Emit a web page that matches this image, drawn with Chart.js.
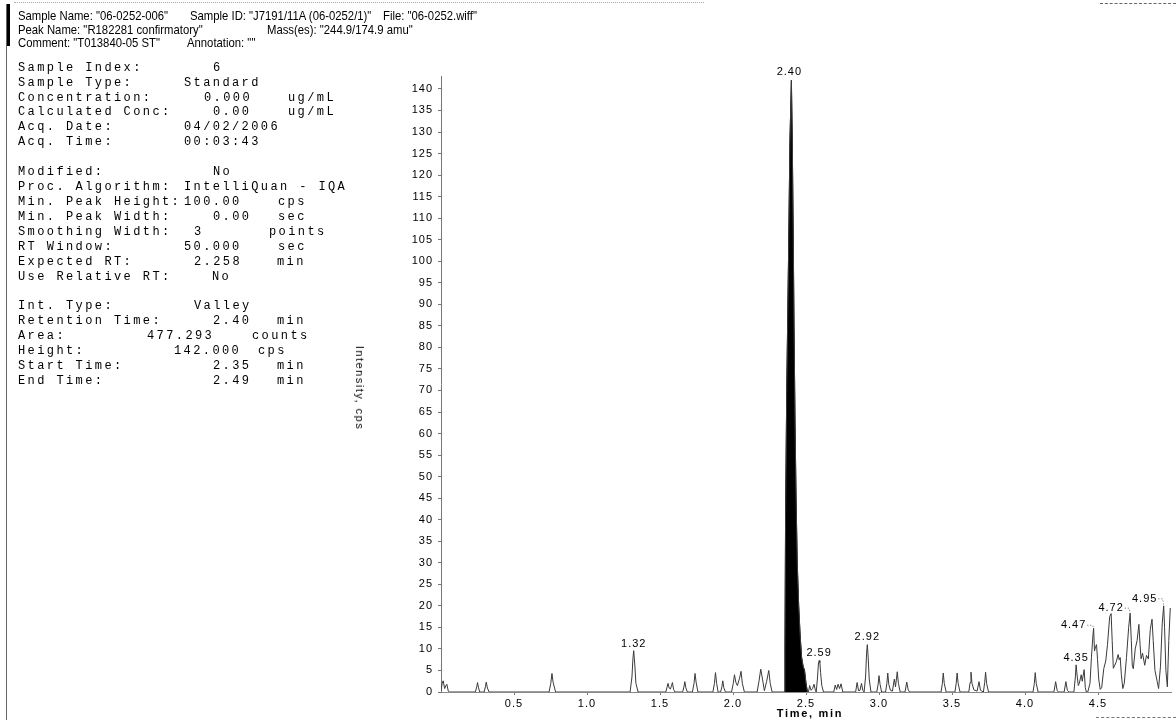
<!DOCTYPE html>
<html>
<head>
<meta charset="utf-8">
<script src="https://cdn.jsdelivr.net/npm/chart.js"></script>
<style>
html, body { margin: 0; padding: 0; background: #fff; }
body { width: 1176px; height: 720px; position: relative; overflow: hidden; }
#wrap { position: absolute; left: 0; top: 0; width: 1176px; height: 720px; }
.hd { position: absolute; font-family: "Liberation Sans", Arial, sans-serif; font-size: 13px; line-height: 14px; white-space: nowrap; color: #000; transform: scaleX(0.87); transform-origin: left center; }
.mono { position: absolute; font-family: "Liberation Mono", "Courier New", monospace; font-size: 12px; line-height: 14px; letter-spacing: 2.4px; white-space: nowrap; color: #000; }
.deco { position: absolute; }
#ytitle { position: absolute; left: 360px; top: 388px; transform: translate(-50%, -50%) rotate(90deg); font-family: "Liberation Sans", Arial, sans-serif; font-size: 11px; letter-spacing: 1.5px; white-space: nowrap; }
#xtitle { position: absolute; left: 810px; top: 713px; transform: translate(-50%, -50%); font-family: "Liberation Sans", Arial, sans-serif; font-size: 11px; font-weight: bold; letter-spacing: 1.7px; white-space: nowrap; }
</style>
</head>
<body>
<div id="wrap"><canvas id="chromChart"></canvas></div>
<div class="deco" style="left:6px;top:4px;width:4px;height:42px;background:#000"></div>
<div class="deco" style="left:6px;top:4px;width:1px;height:716px;background:#666"></div>
<div class="deco" style="left:14px;top:2px;width:690px;border-top:1px dotted #aaa"></div>
<div class="deco" style="left:1100px;top:3px;width:76px;border-top:1px dashed #666"></div>
<div class="deco" style="left:1096px;top:717px;width:80px;border-top:1px dashed #777"></div>
<div id="ytitle">Intensity, cps</div>
<div id="xtitle">Time, min</div>
<div id="texts"></div>
<script>
// chromatogram trace (time in min, intensity in cps)
const times = [
    0.0, 0.008, 0.015, 0.025, 0.032, 0.04, 0.05, 0.06,
    0.235, 0.245, 0.25, 0.257, 0.265,
    0.295, 0.304, 0.31, 0.318, 0.33,
    0.74, 0.752, 0.76, 0.768, 0.785,
    1.295, 1.308, 1.315, 1.32, 1.327, 1.335, 1.35,
    1.54, 1.548, 1.555, 1.563, 1.571, 1.578, 1.585, 1.593, 1.603,
    1.655, 1.664, 1.67, 1.677, 1.687,
    1.722, 1.733, 1.74, 1.748, 1.76,
    1.862, 1.873, 1.88, 1.888, 1.898,
    1.915, 1.924, 1.93, 1.937, 1.948,
    1.99, 2.002, 2.01, 2.02, 2.03, 2.045, 2.055, 2.064, 2.078,
    2.165, 2.178, 2.19, 2.202, 2.215, 2.23, 2.245, 2.255, 2.268,
    2.352, 2.356, 2.36, 2.368, 2.38, 2.39, 2.4, 2.406, 2.412, 2.418, 2.425, 2.432, 2.44, 2.45, 2.46, 2.47, 2.48, 2.49, 2.5, 2.51,
    2.517, 2.525, 2.535, 2.545, 2.555, 2.565,
    2.57, 2.578, 2.585, 2.59, 2.595, 2.6, 2.608, 2.62,
    2.69, 2.7, 2.71, 2.72, 2.73, 2.74, 2.752,
    2.84, 2.85, 2.86, 2.87, 2.88, 2.89,
    2.898, 2.908, 2.915, 2.92, 2.926, 2.933, 2.945,
    2.985, 2.994, 3.0, 3.007, 3.018,
    3.045, 3.054, 3.06, 3.067, 3.078,
    3.092, 3.105, 3.113, 3.125, 3.133, 3.145,
    3.178, 3.19, 3.2, 3.21,
    3.425, 3.434, 3.44, 3.447, 3.46,
    3.52, 3.529, 3.535, 3.542, 3.555,
    3.615, 3.624, 3.63, 3.637, 3.65,
    3.672, 3.685, 3.695, 3.705,
    3.715, 3.724, 3.73, 3.737, 3.75,
    4.055, 4.064, 4.07, 4.077, 4.09,
    4.198, 4.21, 4.22, 4.228,
    4.268, 4.28, 4.29, 4.3,
    4.335, 4.345, 4.35, 4.358, 4.365,
    4.372, 4.385, 4.392, 4.405, 4.413, 4.42,
    4.43, 4.445, 4.455, 4.465, 4.47, 4.476, 4.483, 4.49, 4.497, 4.505, 4.515,
    4.525, 4.54, 4.553, 4.565, 4.58, 4.59, 4.597, 4.605, 4.612,
    4.625, 4.638, 4.645, 4.652, 4.66, 4.67,
    4.68, 4.695, 4.71, 4.72, 4.728, 4.735, 4.742,
    4.755, 4.768, 4.78, 4.788, 4.795,
    4.805, 4.82, 4.832, 4.845, 4.858, 4.87, 4.878, 4.89, 4.905, 4.915, 4.928, 4.94, 4.95, 4.956, 4.965, 4.975, 4.985, 4.995
];
const intensity = [
    0.3, 2.0, 2.6, 0.8, 1.4, 1.8, 0.2, 0,
    0, 1.2, 2.2, 1.0, 0,
    0, 1.2, 2.3, 0.9, 0,
    0, 2.0, 4.3, 2.2, 0,
    0, 3.5, 8.0, 9.6, 6.5, 2.0, 0,
    0, 1.1, 2.0, 0.9, 0.7, 1.3, 2.2, 0.6, 0,
    0, 1.2, 2.4, 1.0, 0,
    0, 2.0, 4.3, 2.1, 0,
    0, 2.0, 4.5, 2.0, 0,
    0, 1.2, 2.6, 1.0, 0,
    0, 2.0, 4.0, 2.2, 1.5, 3.2, 4.8, 2.0, 0,
    0, 2.5, 5.3, 3.0, 0.3, 2.4, 5.0, 2.0, 0,
    0, 10, 40, 70, 100, 128, 142, 128, 108, 85, 62, 45, 30, 20, 13, 8, 6, 5, 2, 0,
    0, 1.5, 0.4, 0.8, 1.8, 0.3,
    0, 3.0, 6.5, 7.3, 6.8, 4.5, 1.5, 0,
    0, 1.6, 0.6, 1.8, 0.8, 1.9, 0,
    0, 2.2, 0.3, 0.4, 2.0, 0.3,
    0, 3.5, 9.0, 11, 8.0, 3.0, 0,
    0, 1.8, 3.8, 1.8, 0,
    0, 2.0, 4.4, 1.8, 0.4,
    0.2, 3.0, 1.2, 4.7, 2.0, 0,
    0, 2.3, 0.5, 0,
    0, 2.0, 4.4, 2.0, 0,
    0, 2.0, 4.4, 2.0, 0,
    0, 2.2, 4.6, 2.0, 0.5,
    0.2, 2.4, 0.4, 0.2,
    0, 2.2, 4.6, 2.0, 0,
    0, 2.0, 4.5, 2.0, 0,
    0, 2.4, 0.4, 0,
    0, 2.4, 0.4, 0,
    0, 3.5, 6.3, 3.5, 1.5,
    2.0, 4.0, 2.5, 5.2, 1.0, 0,
    0, 2.0, 8, 13, 14.8, 9.5, 10.5, 11.0, 7.5, 3.0, 0.6,
    1.0, 5.5, 7.2, 11, 17.5, 18.2, 12, 5.5, 6.0,
    7.0, 8.7, 7.5, 8.0, 4.0, 0.8,
    2.0, 8.0, 15, 18.3, 12, 6.0, 5.4,
    10, 12, 15.7, 11, 7.7,
    9.0, 6.2, 8.5, 7.7, 14.5, 16.9, 12, 5.0, 2.5, 0.8, 6.0, 16, 20, 15, 5.0, 1.2, 12, 19.5
];

// integrated peak (start / end time from the report)
const peakStart = 2.35;
const peakEnd = 2.515;

// labelled peak apexes
const peakLabels = ['1.32', '2.40', '2.59', '2.92', '4.35', '4.47', '4.72', '4.95'];
const peakTimes = [1.32, 2.40, 2.59, 2.92, 4.35, 4.47, 4.72, 4.95];
const peakHeights = [9.6, 142, 7.3, 11, 6.3, 14.8, 18.3, 20];

// axis ticks
const xTicks = [0.5, 1.0, 1.5, 2.0, 2.5, 3.0, 3.5, 4.0, 4.5];
const yTicks = [0, 5, 10, 15, 20, 25, 30, 35, 40, 45, 50, 55, 60, 65, 70, 75, 80, 85, 90, 95, 100, 105, 110, 115, 120, 125, 130, 135, 140];

// header and sample report text
const headerLines = [
    [[18, 'Sample Name: "06-0252-006"'], [190, 'Sample ID: "J7191/11A (06-0252/1)"'], [383, 'File: "06-0252.wiff"']],
    [[18, 'Peak Name: "R182281 confirmatory"'], [267, 'Mass(es): "244.9/174.9 amu"']],
    [[18, 'Comment: "T013840-05 ST"'], [187, 'Annotation: ""']]
];
const reportRows = [
    ['Sample Index:', '6', 213],
    ['Sample Type:', 'Standard', 184],
    ['Concentration:', '0.000', 204, 'ug/mL', 288],
    ['Calculated Conc:', '0.00', 213, 'ug/mL', 288],
    ['Acq. Date:', '04/02/2006', 184],
    ['Acq. Time:', '00:03:43', 184],
    null,
    ['Modified:', 'No', 213],
    ['Proc. Algorithm:', 'IntelliQuan - IQA', 184],
    ['Min. Peak Height:', '100.00', 184, 'cps', 278],
    ['Min. Peak Width:', '0.00', 213, 'sec', 278],
    ['Smoothing Width:', '3', 194, 'points', 269],
    ['RT Window:', '50.000', 184, 'sec', 278],
    ['Expected RT:', '2.258', 194, 'min', 277],
    ['Use Relative RT:', 'No', 212],
    null,
    ['Int. Type:', 'Valley', 194],
    ['Retention Time:', '2.40', 213, 'min', 277],
    ['Area:', '477.293', 147, 'counts', 252],
    ['Height:', '142.000', 174, 'cps', 258],
    ['Start Time:', '2.35', 213, 'min', 277],
    ['End Time:', '2.49', 213, 'min', 277]
];

const textBox = document.getElementById('texts');
function addText(cls, x, yCenter, str) {
    const d = document.createElement('div');
    d.className = cls;
    d.style.left = x + 'px';
    d.style.top = (yCenter - 7) + 'px';
    d.textContent = str;
    textBox.appendChild(d);
}
headerLines.forEach((line, i) => {
    line.forEach(part => addText('hd', part[0], 16 + i * 13.5, part[1]));
});
reportRows.forEach((row, i) => {
    if (!row) return;
    const yc = 67.7 + i * 14.92;
    addText('mono', 18, yc, row[0]);
    addText('mono', row[2], yc, row[1]);
    if (row[3]) addText('mono', row[4], yc, row[3]);
});

const tracePoints = times.map((t, i) => ({x: t, y: intensity[i]}));
const mainPeakPoints = tracePoints.filter(p => p.x >= peakStart && p.x <= peakEnd);

// label offsets from the apex pixel: [dx, dy, leader line]
const labelOffsets = [[0, -7], [-2, -8], [0, -8], [0, -8], [0, -7], [-20, -3, true], [-19, -5, true], [-19, -7, true]];

const peakLabelPlugin = {
    id: 'peakLabels',
    beforeDraw(chart) {
        chart.ctx.letterSpacing = '1px'; // tick labels in the scan are spaced out
    },
    afterDatasetsDraw(chart) {
        const ctx = chart.ctx;
        const xs = chart.scales.x, ys = chart.scales.y;
        ctx.save();
        ctx.font = '11px "Liberation Sans", Arial, sans-serif';
        ctx.letterSpacing = '1px';
        ctx.fillStyle = '#000';
        ctx.textAlign = 'center';
        ctx.textBaseline = 'middle';
        peakLabels.forEach((lab, i) => {
            const px = xs.getPixelForValue(peakTimes[i]);
            const py = ys.getPixelForValue(peakHeights[i]);
            const off = labelOffsets[i];
            const tx = px + off[0], ty = py + off[1];
            ctx.fillText(lab, tx, ty);
            if (off[2]) {
                const w = ctx.measureText(lab).width;
                ctx.save();
                ctx.setLineDash([1, 2]);
                ctx.strokeStyle = '#666';
                ctx.lineWidth = 1;
                ctx.beginPath();
                ctx.moveTo(tx + w / 2 + 1, ty);
                ctx.lineTo(px - 1, ty);
                ctx.lineTo(px, py);
                ctx.stroke();
                ctx.restore();
            }
        });
        ctx.restore();
    },
    afterDraw(chart) {
        chart.ctx.letterSpacing = '0px';
    }
};

const ctx = document.getElementById('chromChart').getContext('2d');
const chromChart = new Chart(ctx, {
    type: 'line',
    data: {
        datasets: [{
            label: 'R182281 confirmatory',
            data: tracePoints,
            borderColor: '#3a3a3a',
            borderWidth: 1,
            pointRadius: 0,
            tension: 0,
            fill: false
        }, {
            label: 'Integrated peak',
            data: mainPeakPoints,
            borderColor: '#000',
            backgroundColor: '#000',
            borderWidth: 1,
            pointRadius: 0,
            tension: 0,
            fill: 'origin'
        }]
    },
    options: {
        responsive: true,
        maintainAspectRatio: false,
        animation: false,
        layout: {
            padding: {left: 380, top: 76, right: 5, bottom: 0}
        },
        plugins: {
            legend: {display: false},
            tooltip: {enabled: false}
        },
        scales: {
            x: {
                type: 'linear',
                min: 0,
                max: 5.0,
                afterFit: scale => { scale.height = 28; },
                afterBuildTicks: scale => { scale.ticks = xTicks.map(v => ({value: v})); },
                ticks: {
                    color: '#000',
                    padding: 2,
                    maxRotation: 0,
                    font: {family: '"Liberation Sans", Arial, sans-serif', size: 11},
                    callback: value => value.toFixed(1)
                },
                grid: {drawOnChartArea: false, tickLength: 3, color: '#777'},
                border: {display: true, color: '#888', width: 1, dash: [3, 2]}
            },
            y: {
                min: 0,
                max: 143,
                afterFit: scale => { scale.width = 61; },
                afterBuildTicks: scale => { scale.ticks = yTicks.map(v => ({value: v})); },
                ticks: {
                    color: '#000',
                    padding: 5,
                    font: {family: '"Liberation Sans", Arial, sans-serif', size: 11}
                },
                grid: {drawOnChartArea: false, tickLength: 3, color: '#777'},
                border: {display: true, color: '#777', width: 1, dash: [1, 2]}
            }
        }
    },
    plugins: [peakLabelPlugin]
});
</script>
</body>
</html>
